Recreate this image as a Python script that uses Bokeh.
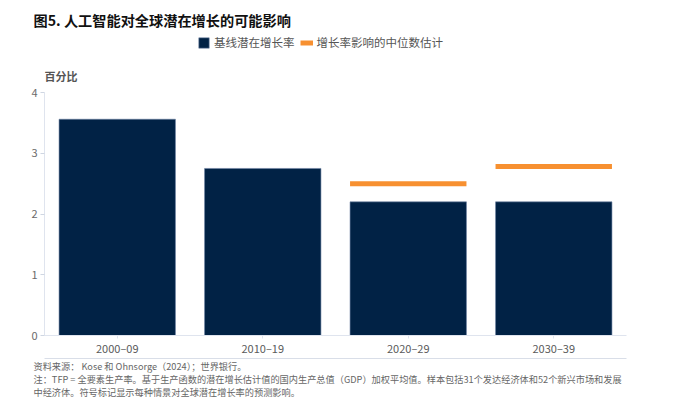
from bokeh.plotting import figure
from bokeh.models import (Range1d, FactorRange, Label, Legend, LegendItem, FixedTicker, Title,
                          ColumnDataSource, CategoricalAxis)
from bokeh.transform import dodge
from bokeh.embed import file_html
from bokeh.resources import INLINE

categories = ["2000–09", "2010–19", "2020–29", "2030–39"]
baseline = [3.56, 2.75, 2.20, 2.20]
ai_cats = ["2020–29", "2030–39"]
ai_median = [2.50, 2.78]
y_ticks = [0, 1, 2, 3, 4]

title_text = "图5. 人工智能对全球潜在增长的可能影响"
ylabel_text = "百分比"
legend_labels = ["基线潜在增长率", "增长率影响的中位数估计"]
notes = [
    "资料来源： Kose 和 Ohnsorge（2024）；世界银行。",
    "注：TFP = 全要素生产率。基于生产函数的潜在增长估计值的国内生产总值（GDP）加权平均值。样本包括31个发达经济体和52个新兴市场和发展",
    "中经济体。符号标记显示每种情景对全球潜在增长率的预测影响。",
]

FONT = "Noto Sans CJK SC"
NAVY = "#012245"
ORANGE = "#F79030"

# frame spans page y 34..335 ; value 4 sits at y=92 (60.75 px per unit)
FRAME_TOP = 34
Y_TOP = 4 + (92 - FRAME_TOP) / 60.75

p = figure(width=700, height=417, x_range=FactorRange(*categories, range_padding=0, factor_padding=0),
           y_range=Range1d(0, Y_TOP), output_backend="svg", toolbar_location=None, title=None,
           min_border_left=44, min_border_right=74, min_border_top=FRAME_TOP, min_border_bottom=82)
p.outline_line_color = None
p.xgrid.grid_line_color = None
p.ygrid.grid_line_color = None

bars = p.vbar(x=categories, top=baseline, width=0.8, fill_color=NAVY, line_color="#6d82a3", line_width=0.6)
src = ColumnDataSource(dict(x=ai_cats, y=ai_median))
marks = p.segment(x0=dodge("x", -0.4, range=p.x_range), y0="y",
                  x1=dodge("x", 0.4, range=p.x_range), y1="y",
                  source=src, line_color=ORANGE, line_width=5, line_cap="butt")

p.yaxis.ticker = FixedTicker(ticks=y_ticks)
p.yaxis.bounds = (0, 4)
p.yaxis.axis_line_color = "#dfe4ee"
p.yaxis.major_tick_line_color = "#cfd6e2"
p.yaxis.major_tick_out = 4
p.yaxis.major_tick_in = 0
p.yaxis.minor_tick_line_color = None
p.yaxis.major_label_text_font = FONT
p.yaxis.major_label_text_font_size = "11px"
p.yaxis.major_label_text_color = "#6b6b6b"
p.yaxis.major_label_standoff = 3

p.xaxis.axis_line_color = "#dfe4ee"
p.xaxis.major_tick_line_color = "#dfe4ee"
p.xaxis.major_tick_out = 3
p.xaxis.major_tick_in = 0
p.xaxis.major_label_text_font = FONT
p.xaxis.major_label_text_font_size = "11px"
p.xaxis.major_label_text_color = "#5a5a5a"
p.xaxis.major_label_standoff = 1

# thin separator line under the category labels
sep = CategoricalAxis(axis_line_color="#d9dee8", major_tick_line_color=None, minor_tick_line_color=None,
                      major_label_text_color=None, major_label_text_font_size="1px",
                      major_label_standoff=10, major_tick_out=0)
p.add_layout(sep, "below")

for line in notes:
    p.add_layout(Title(text=line, align="left", offset=-11, standoff=-3,
                       text_font=FONT, text_font_size="9.2px", text_font_style="normal",
                       text_color="#666666"), "below")

p.add_layout(Title(text=title_text, align="left", offset=-11,
                   text_font=FONT, text_font_size="14.2px", text_font_style="bold",
                   text_color="#111111"), "above")

legend = Legend(items=[LegendItem(label=legend_labels[0], renderers=[bars]),
                       LegendItem(label=legend_labels[1], renderers=[marks])],
                orientation="horizontal", location=(153, 285), padding=0, margin=0,
                border_line_color=None, background_fill_alpha=0,
                glyph_width=13, glyph_height=13, label_standoff=4, spacing=5,
                label_text_font=FONT, label_text_font_size="11.5px", label_text_color="#555555")
p.add_layout(legend, "center")

p.add_layout(Label(x=0, y=260, x_units="screen", y_units="screen", text=ylabel_text,
                   text_font=FONT, text_font_size="11px", text_font_style="bold",
                   text_color="#555555", text_baseline="middle"))

open("out.html", "w").write(file_html(p, INLINE))
